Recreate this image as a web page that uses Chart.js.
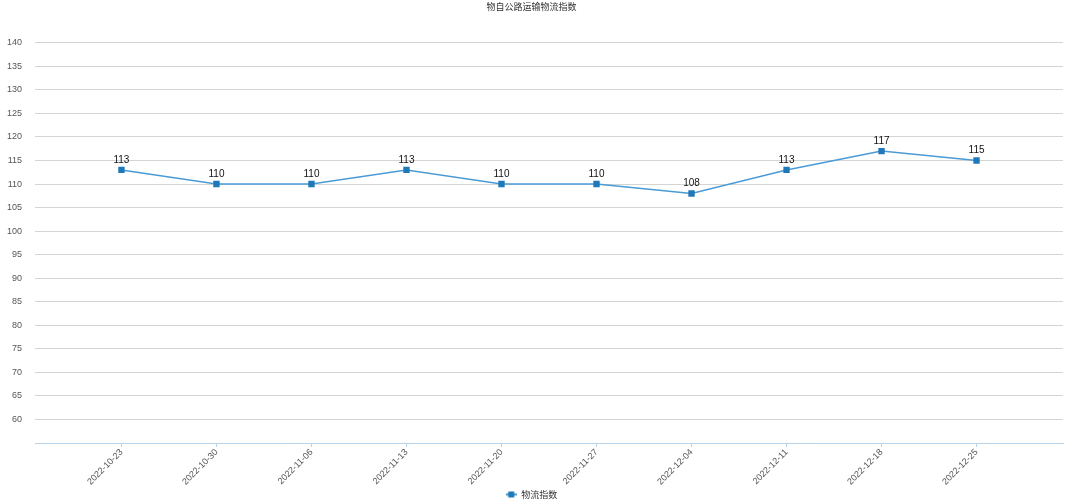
<!DOCTYPE html>
<html><head><meta charset="utf-8">
<script src="https://cdn.jsdelivr.net/npm/chart.js@4/dist/chart.umd.min.js"></script>
<style>html,body{margin:0;padding:0;background:#fff}#wrap{position:relative;width:1080px;height:504px}</style>
</head><body><div id="wrap"><canvas id="c"></canvas></div>
<script>
const chartTitle = '物自公路运输物流指数';
const seriesName = '物流指数';
const categories = ['2022-10-23','2022-10-30','2022-11-06','2022-11-13','2022-11-20','2022-11-27','2022-12-04','2022-12-11','2022-12-18','2022-12-25'];
const values = [113,110,110,113,110,110,108,113,117,115];
const yTickLabels = [60,65,70,75,80,85,90,95,100,105,110,115,120,125,130,135,140];

const lineColor = '#4a9bd5';
const pointColor = '#1f78b8';
const numFont = '"Liberation Sans", Arial, sans-serif';
const cjkFont = '"Noto Sans CJK SC", sans-serif';

// legend icon: line with square
const icon = document.createElement('canvas');
icon.width = 11; icon.height = 7;
(function(){
  const g = icon.getContext('2d');
  g.strokeStyle = lineColor; g.lineWidth = 2;
  g.beginPath(); g.moveTo(0,3.5); g.lineTo(11,3.5); g.stroke();
  g.fillStyle = pointColor; g.fillRect(2.5,0.5,6,6);
})();

const dataLabels = {
  id: 'dataLabels',
  afterDatasetsDraw(chart) {
    const ctx = chart.ctx;
    const meta = chart.getDatasetMeta(0);
    ctx.save();
    ctx.font = '10px ' + numFont;
    ctx.fillStyle = '#111';
    ctx.textAlign = 'center';
    ctx.textBaseline = 'bottom';
    meta.data.forEach((pt, i) => {
      ctx.fillText(String(values[i]), pt.x, pt.y - 5);
    });
    ctx.restore();
  }
};

new Chart(document.getElementById('c'), {
  type: 'line',
  data: {
    datasets: [{
      label: seriesName,
      data: values.map((v, i) => ({x: i, y: v})),
      borderColor: lineColor,
      backgroundColor: pointColor,
      borderWidth: 1.5,
      pointStyle: 'rect',
      pointRadius: 4.5,
      pointBackgroundColor: pointColor,
      pointBorderColor: pointColor,
      pointBorderWidth: 0,
      tension: 0
    }]
  },
  options: {
    responsive: true,
    maintainAspectRatio: false,
    animation: false,
    layout: { padding: { left: 0, right: 17, top: 0, bottom: -5 } },
    scales: {
      x: {
        type: 'linear',
        clip: false,
        min: -0.91,
        max: categories.length - 1 + 0.91,
        afterFit(s) { s.height = 47; },
        border: { display: true, color: '#b7d3ea', width: 1 },
        grid: { display: true, drawOnChartArea: false, drawTicks: true, tickLength: 4, color: '#b7d3ea' },
        ticks: {
          stepSize: 1,
          includeBounds: false,
          autoSkip: false,
          maxRotation: 45,
          minRotation: 45,
          padding: 0,
          color: '#555',
          font: { size: 9, family: numFont },
          callback: (v) => (Number.isInteger(v) && categories[v]) ? categories[v] : ''
        }
      },
      y: {
        min: 55,
        max: 140,
        afterFit(s) { s.width = 35; },
        border: { display: false },
        grid: {
          drawTicks: false,
          color: (c) => (c.tick && yTickLabels.includes(c.tick.value)) ? '#d4d4d4' : 'rgba(0,0,0,0)'
        },
        ticks: {
          stepSize: 5,
          padding: 13,
          color: '#555',
          font: { size: 9, family: numFont },
          callback: (v) => yTickLabels.includes(v) ? String(v) : ''
        }
      }
    },
    plugins: {
      title: {
        display: true,
        text: chartTitle,
        color: '#333',
        font: { size: 9, weight: 'normal', family: cjkFont },
        padding: { top: 1, bottom: 31 }
      },
      legend: {
        display: true,
        position: 'bottom',
        labels: {
          usePointStyle: true,
          pointStyleWidth: 11,
          color: '#333',
          font: { size: 9, family: cjkFont },
          padding: 0,
          generateLabels: (chart) => [{
            text: seriesName,
            pointStyle: icon,
            fillStyle: pointColor,
            strokeStyle: lineColor,
            lineWidth: 0,
            fontColor: '#333',
            datasetIndex: 0,
            hidden: false
          }]
        }
      },
      tooltip: { enabled: false }
    }
  },
  plugins: [dataLabels]
});
</script>
</body></html>
